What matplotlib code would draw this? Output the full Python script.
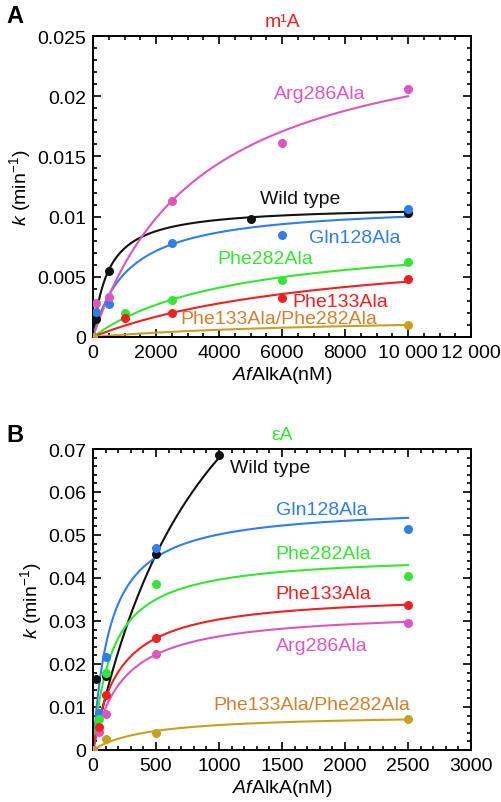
import matplotlib
matplotlib.use('Agg')
from matplotlib import pyplot
import matplotlib.ticker as ticker
import numpy

pyplot.rcParams['font.family'] = ['Liberation Sans', 'DejaVu Sans']
pyplot.rcParams['mathtext.fontset'] = 'custom'
pyplot.rcParams['mathtext.rm'] = 'Liberation Sans'
pyplot.rcParams['mathtext.it'] = 'Liberation Sans:italic'

# mutant names and colours (same in both panels)
names = ['Wild type', 'Gln128Ala', 'Arg286Ala', 'Phe282Ala', 'Phe133Ala', 'Phe133Ala/Phe282Ala']
colors = ['#111111', '#2f7df0', '#dd55c0', '#33e633', '#f02020', '#c8a020']
label_colors = ['#111111', '#2f7df0', '#dd55c0', '#33e633', '#f02020', '#d08030']

# panel A, m1A: measured points
a_x = [[0, 100, 500, 5000, 10000],
       [0, 100, 500, 2500, 6000, 10000],
       [0, 100, 500, 2500, 6000, 10000],
       [0, 1000, 2500, 6000, 10000],
       [0, 1000, 2500, 6000, 10000],
       [0, 10000]]
a_y = [[0, 0.0015, 0.0055, 0.0098, 0.0103],
       [0, 0.0021, 0.0027, 0.0078, 0.0085, 0.0106],
       [0, 0.0028, 0.0033, 0.0113, 0.0161, 0.0206],
       [0, 0.0020, 0.0031, 0.0047, 0.0062],
       [0, 0.0016, 0.0020, 0.0032, 0.0048],
       [0, 0.00098]]
# hyperbolic fits: kmax, K (nM), end of curve
a_kmax = [0.0109, 0.0111, 0.0269, 0.00872, 0.00812, 0.0018]
a_K = [480, 1107, 3453, 4528, 7647, 8000]
a_end = [10000, 10000, 10000, 10000, 10000, 10000]
# label positions
a_lab_x = [6571, 8317, 7206, 5460, 7841, 5883]
a_lab_y = [0.01152, 0.00828, 0.0202, 0.00648, 0.00297, 0.0015]

# panel B, epsilon-A
b_x = [[0, 25, 100, 500, 1000],
       [0, 50, 100, 500, 2500],
       [0, 50, 100, 500, 2500],
       [0, 50, 100, 500, 2500],
       [0, 50, 100, 500, 2500],
       [0, 100, 500, 2500]]
b_y = [[0, 0.0166, 0.0172, 0.0455, 0.0686],
       [0, 0.0087, 0.0217, 0.0469, 0.0515],
       [0, 0.0042, 0.0083, 0.0223, 0.0295],
       [0, 0.0073, 0.0180, 0.0387, 0.0405],
       [0, 0.0054, 0.0127, 0.0260, 0.0337],
       [0, 0.0026, 0.0039, 0.0071]]
b_kmax = [0.1346, 0.0569, 0.0326, 0.0456, 0.03654, 0.00835]
b_K = [980, 135, 234, 151, 203, 441]
b_end = [1000, 2500, 2500, 2500, 2500, 2500]
b_lab_x = [1410, 1815, 1815, 1828, 1828, 1736]
b_lab_y = [0.0657, 0.0560, 0.02426, 0.0456, 0.0365, 0.01047]

fig = pyplot.figure(figsize=(5.02, 8.03), dpi=100)
axA = fig.add_axes([0.1853, 0.5791, 0.753, 0.3748])
axB = fig.add_axes([0.1853, 0.0648, 0.753, 0.3748])


def panel(ax, xs, ys, kmax, K, end, lx, ly):
    for i in range(len(names)):
        xx = numpy.linspace(0, end[i], 300)
        ax.plot(xx, kmax[i] * xx / (K[i] + xx), color=colors[i], lw=1.5, zorder=2)
    for i in range(len(names)):
        ax.plot(xs[i], ys[i], 'o', color=colors[i], ms=6.5, mec='none', zorder=3 + i)
        ax.text(lx[i], ly[i], names[i], color=label_colors[i], fontsize=14,
                ha='center', va='center', zorder=10)
    ax.tick_params(which='both', direction='in', top=True, right=True, labelsize=14, width=1.2)
    ax.tick_params(which='major', length=6, pad=5)
    ax.tick_params(which='minor', length=3)
    for s in ax.spines.values():
        s.set_linewidth(1.4)
    ax.set_ylabel('$\\it{k}$ (min$^{-1}$)', fontsize=14, labelpad=3)
    ax.set_xlabel('$\\it{Af}$AlkA(nM)', fontsize=14, labelpad=2)


panel(axA, a_x, a_y, a_kmax, a_K, a_end, a_lab_x, a_lab_y)
axA.set_xlim(0, 12000)
axA.set_ylim(0, 0.025)
axA.xaxis.set_major_locator(ticker.MultipleLocator(2000))
axA.xaxis.set_minor_locator(ticker.MultipleLocator(500))
axA.yaxis.set_major_locator(ticker.MultipleLocator(0.005))
axA.yaxis.set_minor_locator(ticker.MultipleLocator(0.001))
axA.xaxis.set_major_formatter(ticker.FuncFormatter(
    lambda v, p: ('%d' % v) if v < 10000 else ('%d %03d' % (v // 1000, v % 1000))))
axA.yaxis.set_major_formatter(ticker.FuncFormatter(lambda v, p: ('%g' % round(v, 4))))
axA.set_title('m¹A', color='#f02020', fontsize=14, pad=7)

panel(axB, b_x, b_y, b_kmax, b_K, b_end, b_lab_x, b_lab_y)
axB.set_xlim(0, 3000)
axB.set_ylim(0, 0.07)
axB.xaxis.set_major_locator(ticker.MultipleLocator(500))
axB.xaxis.set_minor_locator(ticker.MultipleLocator(100))
axB.yaxis.set_major_locator(ticker.MultipleLocator(0.01))
axB.yaxis.set_minor_locator(ticker.MultipleLocator(0.002))
axB.yaxis.set_major_formatter(ticker.FuncFormatter(lambda v, p: ('%g' % round(v, 4))))
axB.set_title('εA', color='#33e633', fontsize=14, pad=7)

fig.text(0.03, 0.979, 'A', fontsize=17, weight='bold', va='center', ha='center')
fig.text(0.03, 0.458, 'B', fontsize=17, weight='bold', va='center', ha='center')

fig.savefig('out.png', dpi=100)
